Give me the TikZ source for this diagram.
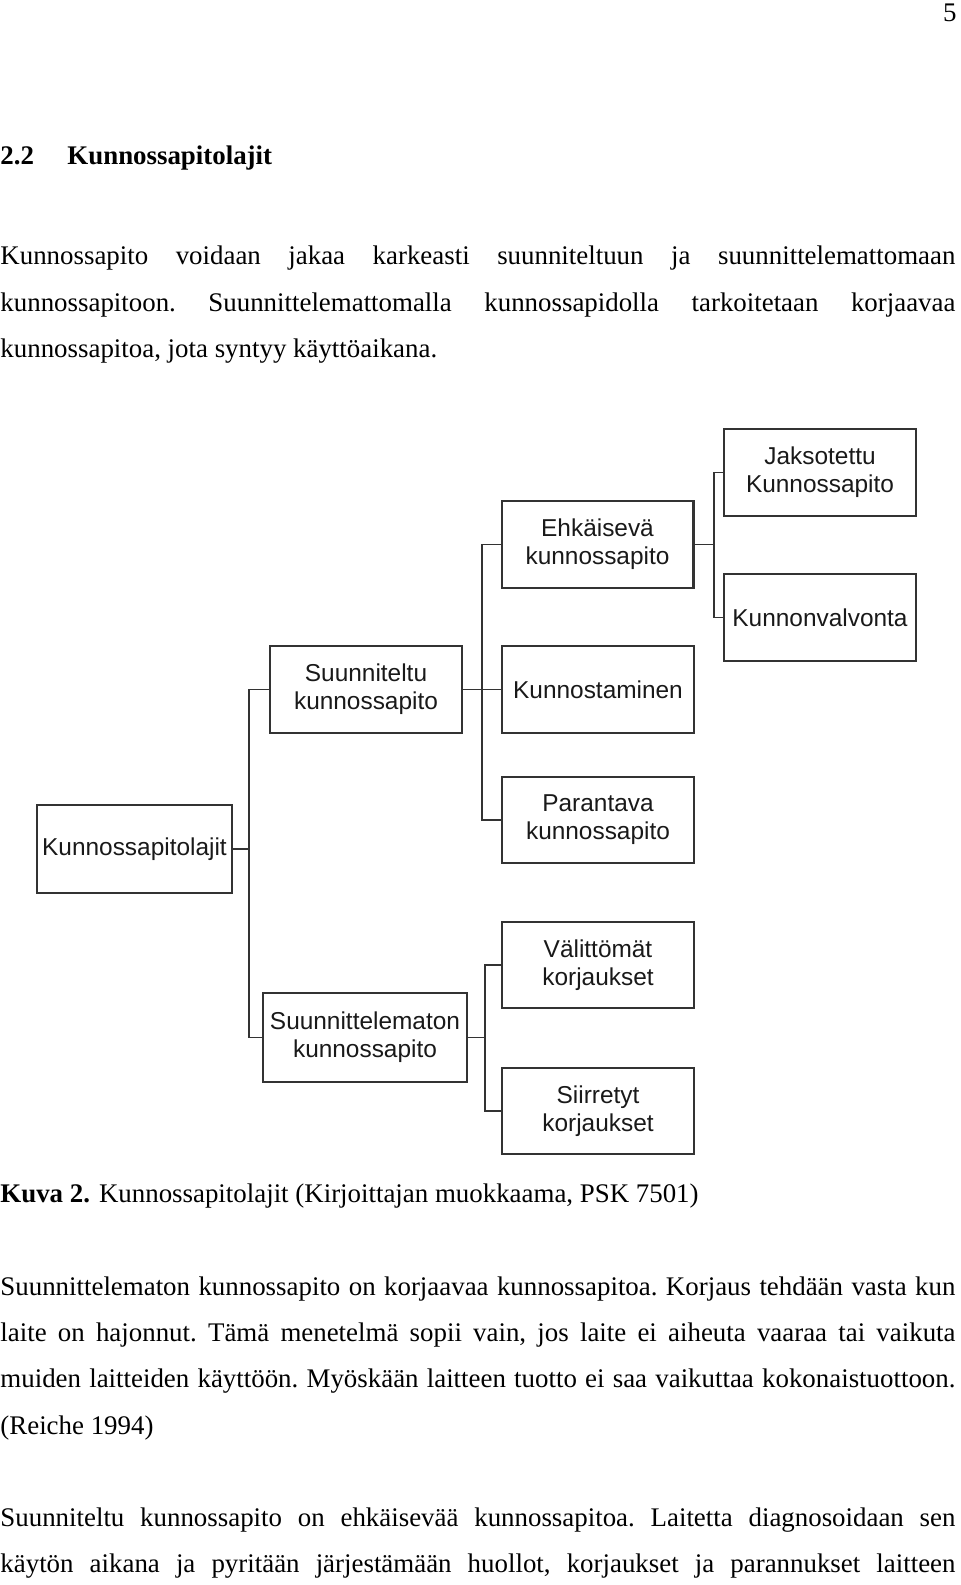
\documentclass[tikz,border=0pt]{standalone}
\usepackage{fontspec}
\setmainfont{Liberation Serif}
\newfontfamily\boxfont{Liberation Sans}
\usepackage{tikz}
\usetikzlibrary{positioning}

\tikzset{
  kpbox/.style={draw=black!80, line width=0.9pt, rectangle, minimum width=85.7pt, minimum height=38.8pt,
    inner sep=1pt, align=center, text=black!90, font=\boxfont\fontsize{10.9pt}{12.6pt}\selectfont},
  kpline/.style={draw=black!80, line width=0.85pt},
  bodytext/.style={inner sep=0pt, anchor=base west, font=\fontsize{12pt}{20.7pt}\selectfont},
  bodypara/.style={bodytext, text width=426.3pt, align=justify,
    execute at begin node={\frenchspacing\tolerance=10000\hyphenpenalty=10000}}
}

\begin{document}
\begin{tikzpicture}[x=0.4464pt, y=-0.4464pt]
\useasboundingbox (0,0) rectangle (960,1585);

% page text
\node[bodytext, anchor=base east] at (957,22) (pagenum) {5};
\node[bodytext] at (0,165) (secnum) {\textbf{2.2}};
\node[bodytext] at (67,165) (sectitle) {\textbf{Kunnossapitolajit}};
\node[bodypara] at (0,265) (paraA) {Kunnossapito voidaan jakaa karkeasti suunniteltuun ja suunnittelemattomaan\linebreak
  kunnossapitoon. Suunnittelemattomalla kunnossapidolla tarkoitetaan korjaavaa\linebreak
  kunnossapitoa, jota syntyy käyttöaikana.};

% boxes
\node[kpbox, minimum width=87pt, minimum height=39.3pt] at (134.5,849) (lajit) {Kunnossapitolajit};
\node[kpbox] at (366,689.5) (suunn) {Suunniteltu\\kunnossapito};
\node[kpbox, minimum width=91pt, minimum height=39.7pt] at (365,1037.5) (suunnm) {Suunnittelematon\\kunnossapito};
\node[kpbox] at (597.5,544.5) (ehk) {Ehkäisevä\\kunnossapito};
\node[kpbox] at (598,689.5) (kunnost) {Kunnostaminen};
\node[kpbox] at (598,820) (parant) {Parantava\\kunnossapito};
\node[kpbox] at (820,472.5) (jaks) {Jaksotettu\\Kunnossapito};
\node[kpbox] at (820,617.5) (valv) {Kunnonvalvonta};
\node[kpbox] at (598,965) (valit) {Välittömät\\korjaukset};
\node[kpbox] at (598,1111) (siirr) {Siirretyt\\korjaukset};

% trunks
\coordinate (tA) at (249,0);
\coordinate (tB) at (482,0);
\coordinate (tC) at (714,0);
\coordinate (tD) at (485,0);

\draw[kpline] (lajit.east) -- (lajit.east -| tA);
\draw[kpline] (suunn.west) -- (suunn.west -| tA) -- (suunnm.west -| tA) -- (suunnm.west);
\draw[kpline] (suunn.east) -- (suunn.east -| tB);
\draw[kpline] (ehk.west) -- (ehk.west -| tB) -- (parant.west -| tB) -- (parant.west);
\draw[kpline] (kunnost.west) -- (kunnost.west -| tB);
\draw[kpline] (ehk.east) -- (ehk.east -| tC);
\draw[kpline] (jaks.west) -- (jaks.west -| tC) -- (valv.west -| tC) -- (valv.west);
\draw[kpline] (suunnm.east) -- (suunnm.east -| tD);
\draw[kpline] (valit.west) -- (valit.west -| tD) -- (siirr.west -| tD) -- (siirr.west);

% caption and text below
\node[bodytext] at (0,1202) (caption) {\textbf{Kuva 2.} Kunnossapitolajit (Kirjoittajan muokkaama, PSK 7501)};
\node[bodypara] at (0,1295) (paraB) {Suunnittelematon kunnossapito on korjaavaa kunnossapitoa. Korjaus tehdään vasta kun\linebreak
  laite on hajonnut. Tämä menetelmä sopii vain, jos laite ei aiheuta vaaraa tai vaikuta\linebreak
  muiden laitteiden käyttöön. Myöskään laitteen tuotto ei saa vaikuttaa kokonaistuottoon.\linebreak
  (Reiche 1994)};
\node[bodypara] at (0,1526) (paraC) {Suunniteltu kunnossapito on ehkäisevää kunnossapitoa. Laitetta diagnosoidaan sen\linebreak
  käytön aikana ja pyritään järjestämään huollot, korjaukset ja parannukset laitteen\linebreak};

\end{tikzpicture}
\end{document}
